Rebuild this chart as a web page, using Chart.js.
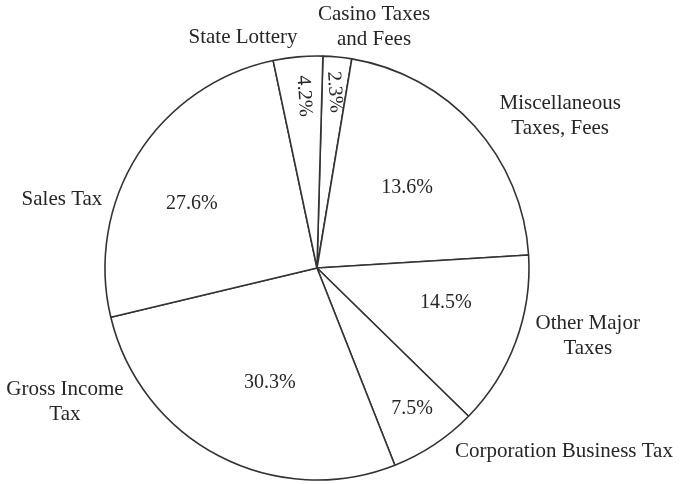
<!DOCTYPE html>
<html>
<head>
<meta charset="utf-8">
<script src="https://cdn.jsdelivr.net/npm/chart.js@4"></script>
<style>
  html, body { margin: 0; padding: 0; background: #ffffff; }
  #wrap { width: 680px; height: 484px; }
</style>
</head>
<body>
<div id="wrap"><canvas id="c" width="680" height="484"></canvas></div>
<script>
// Categories, clockwise from just right of 12 o'clock
const categories = [
  ["Casino Taxes", "and Fees"],
  ["Miscellaneous", "Taxes, Fees"],
  ["Other Major", "Taxes"],
  ["Corporation Business Tax"],
  ["Gross Income", "Tax"],
  ["Sales Tax"],
  ["State Lottery"]
];
// Printed percentages (as written on the chart)
const percentLabels = ["2.3%", "13.6%", "14.5%", "7.5%", "30.3%", "27.6%", "4.2%"];
// Slice sizes as actually drawn in the picture (share of the full circle, %)
const sliceShares = [2.18, 21.40, 13.30, 6.69, 27.25, 25.42, 3.76];

// Label placement relative to pie centre, in units of the radius
const outerLabelPos = [
  [0.269, -1.137], [1.147, -0.717], [1.277, 0.321], [1.165, 0.866],
  [-1.189, 0.632], [-1.203, -0.321], [-0.349, -1.085]
];
const innerLabelPos = [
  [0.083, -0.830], [0.425, -0.380], [0.608, 0.165], [0.448, 0.665],
  [-0.222, 0.542], [-0.590, -0.302], [-0.061, -0.811]
];
const innerLabelRot = [86, 0, 0, 0, 0, 0, 86];

const FONT = '"Liberation Serif", "Times New Roman", serif';
const TEXT = '#262626';

const labelPlugin = {
  id: 'labels',
  afterDraw(chart) {
    const ctx = chart.ctx;
    const meta = chart.getDatasetMeta(0);
    const a0 = meta.data[0];
    const cx = a0.x, cy = a0.y, r = a0.outerRadius;
    ctx.save();
    ctx.fillStyle = TEXT;
    ctx.textAlign = 'center';
    ctx.textBaseline = 'middle';
    ctx.font = '21px ' + FONT;
    categories.forEach((lines, i) => {
      const x = cx + outerLabelPos[i][0] * r;
      const y = cy + outerLabelPos[i][1] * r;
      const lh = 25;
      const y0 = y - (lines.length - 1) * lh / 2;
      lines.forEach((t, j) => ctx.fillText(t, x, y0 + j * lh));
    });
    ctx.font = '20px ' + FONT;
    percentLabels.forEach((t, i) => {
      const x = cx + innerLabelPos[i][0] * r;
      const y = cy + innerLabelPos[i][1] * r;
      ctx.save();
      ctx.translate(x, y);
      ctx.rotate(innerLabelRot[i] * Math.PI / 180);
      ctx.fillText(t, 0, 0);
      ctx.restore();
    });
    ctx.restore();
  }
};

new Chart(document.getElementById('c'), {
  type: 'pie',
  data: {
    labels: categories.map(l => l.join(' ')),
    datasets: [{
      data: sliceShares,
      backgroundColor: '#ffffff',
      borderColor: '#333333',
      borderWidth: 1.6,
      hoverOffset: 0
    }]
  },
  options: {
    responsive: false,
    animation: false,
    rotation: 1.6,
    radius: 212,
    layout: { padding: { left: 105, right: 151, top: 56, bottom: 4 } },
    plugins: {
      legend: { display: false },
      tooltip: { enabled: false }
    }
  },
  plugins: [labelPlugin]
});
</script>
</body>
</html>
